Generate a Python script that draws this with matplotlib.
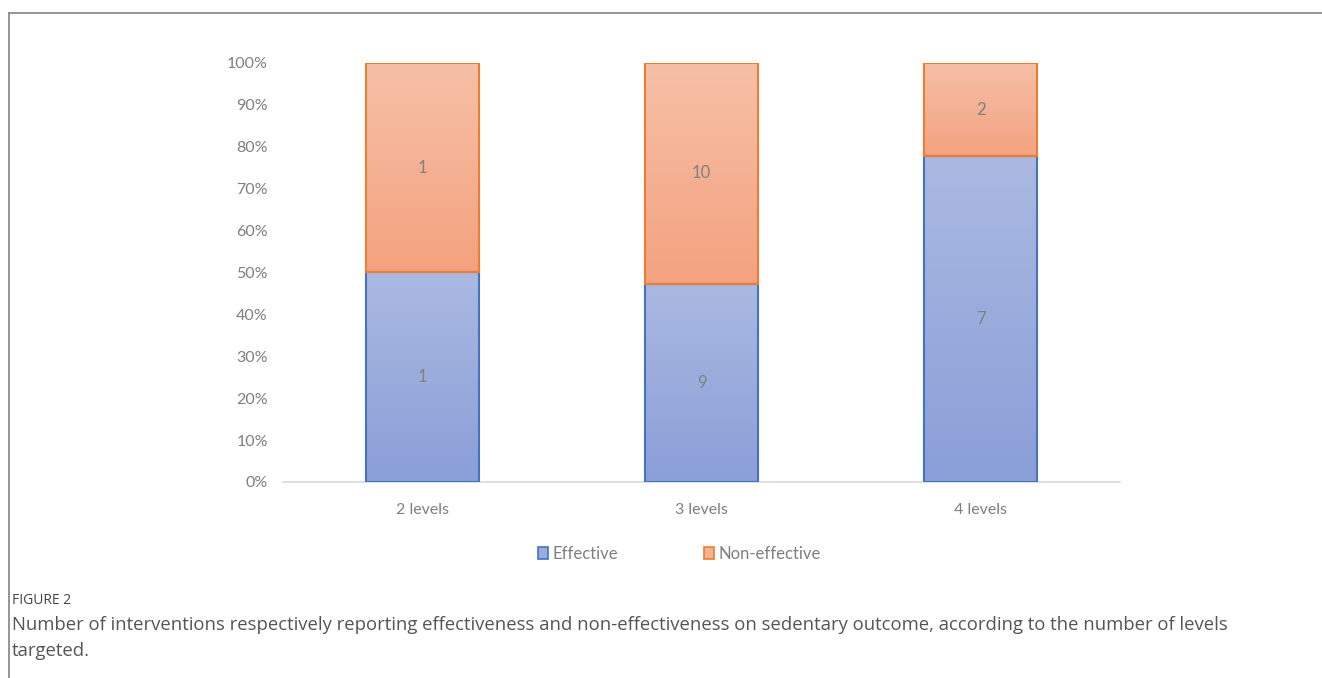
import numpy as np
import matplotlib.pyplot as plt
from matplotlib.colors import LinearSegmentedColormap
from matplotlib.patches import Patch
from matplotlib.lines import Line2D
from matplotlib.ticker import PercentFormatter

categories = ["2 levels", "3 levels", "4 levels"]
effective = [1, 9, 7]
non_effective = [1, 10, 2]
yticks = [0, 10, 20, 30, 40, 50, 60, 70, 80, 90, 100]

plt.rcParams['font.family'] = ['Lato', 'DejaVu Sans']

eff = np.array(effective, dtype=float)
non = np.array(non_effective, dtype=float)
tot = eff + non
eff_pct = eff / tot * 100
non_pct = non / tot * 100

fig = plt.figure(figsize=(13.22, 6.78), dpi=100)
ax = fig.add_axes([0.2141, 0.2891, 0.6331, 0.618])

x = np.arange(len(categories))
w = 0.405
b1 = ax.bar(x, eff_pct, w, facecolor='none', edgecolor='#4472c4', linewidth=1.5, zorder=3)
b2 = ax.bar(x, non_pct, w, bottom=eff_pct, facecolor='none', edgecolor='#ed7d31', linewidth=1.5, zorder=3)

blue_cm = LinearSegmentedColormap.from_list('b', ['#8a9fd8', '#abb9e1'])
orange_cm = LinearSegmentedColormap.from_list('o', ['#f4a27f', '#f6c0a7'])
grad = np.linspace(0, 1, 256).reshape(-1, 1)

# gradient fill per segment, clipped to its bar
for bars, cm in [(b1, blue_cm), (b2, orange_cm)]:
    for r in bars:
        x0, y0 = r.get_x(), r.get_y()
        im = ax.imshow(grad, cmap=cm, origin='lower', aspect='auto',
                       extent=[x0, x0 + r.get_width(), y0, y0 + r.get_height()], zorder=2)
        im.set_clip_path(r)

for i in range(len(categories)):
    ax.text(x[i], eff_pct[i] / 2, str(effective[i]), ha='center', va='center',
            fontsize=12, color='#808080', zorder=4)
    ax.text(x[i], eff_pct[i] + non_pct[i] / 2, str(non_effective[i]), ha='center', va='center',
            fontsize=12, color='#808080', zorder=4)

ax.set_xlim(-0.5, 2.5)
ax.set_ylim(0, 100)
ax.set_yticks(yticks)
ax.yaxis.set_major_formatter(PercentFormatter(decimals=0))
ax.set_xticks(x)
ax.set_xticklabels(categories)
ax.tick_params(axis='both', length=0, labelsize=11.5, labelcolor='#7f7f7f')
ax.tick_params(axis='y', pad=11)
ax.tick_params(axis='x', pad=15)
for s in ['top', 'right', 'left']:
    ax.spines[s].set_visible(False)
ax.spines['bottom'].set_color('#d9d9d9')
ax.spines['bottom'].set_linewidth(1.2)

handles = [Patch(facecolor='#9aacdc', edgecolor='#4472c4', linewidth=1.2),
           Patch(facecolor='#f5b193', edgecolor='#ed7d31', linewidth=1.2)]
fig.legend(handles, ['Effective', 'Non-effective'], loc='center', bbox_to_anchor=(0.514, 1 - 554 / 678),
           ncol=2, frameon=False, fontsize=12, labelcolor='#7f7f7f', handlelength=0.6,
           handleheight=0.7, handletextpad=0.25, columnspacing=5.2)

# figure frame (top and left only)
fig.add_artist(Line2D([9 / 1322, 1], [1 - 13 / 678, 1 - 13 / 678], color='#8c8c8c', linewidth=1.3))
fig.add_artist(Line2D([9 / 1322, 9 / 1322], [0, 1 - 13 / 678], color='#8c8c8c', linewidth=1.3))

fig.text(12 / 1322, 1 - 601 / 678, "FIGURE 2", fontsize=10, color='#444444', va='center',
         family=['Open Sans', 'DejaVu Sans'])
fig.text(12 / 1322, 1 - 625 / 678,
         "Number of interventions respectively reporting effectiveness and non-effectiveness on sedentary outcome, according to the number of levels",
         fontsize=13.3, color='#555555', va='center', family=['Open Sans', 'DejaVu Sans'])
fig.text(12 / 1322, 1 - 651 / 678, "targeted.", fontsize=13.3, color='#555555', va='center',
         family=['Open Sans', 'DejaVu Sans'])

fig.savefig('out.png', dpi=100)
